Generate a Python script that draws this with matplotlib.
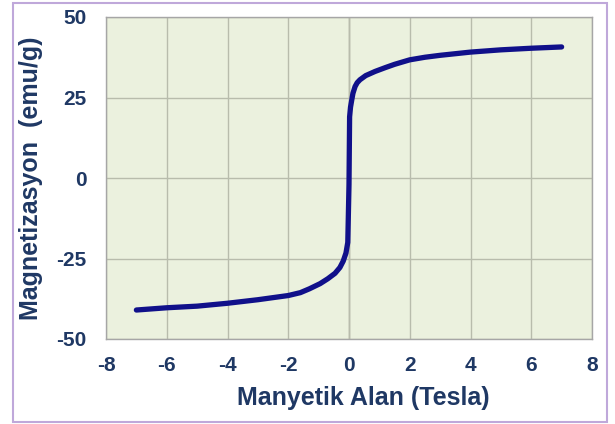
import numpy as np
import matplotlib
matplotlib.use('agg')
import matplotlib.pyplot as plt
from matplotlib.patches import Rectangle

# field (Tesla) and magnetization (emu/g)
field = [-7, -6, -5, -4, -3, -2, -1.6, -1.3, -0.95, -0.7, -0.46, -0.3, -0.19, -0.1, -0.04, 0.0,
         0.02, 0.05, 0.09, 0.13, 0.2, 0.27, 0.36, 0.55, 0.86, 1.2, 1.5, 2, 2.5, 3, 4, 5, 6, 7]
magn = [-41, -40.3, -39.8, -38.9, -37.8, -36.5, -35.6, -34.4, -32.8, -31.3, -29.6, -27.8, -25.8, -23.3, -20, -2,
        19, 22, 24.2, 26.3, 28.4, 29.6, 30.5, 31.8, 33.1, 34.3, 35.3, 36.7, 37.5, 38.1, 39.1, 39.8, 40.3, 40.7]

xticks = [-8, -6, -4, -2, 0, 2, 4, 6, 8]
yticks = [-50, -25, 0, 25, 50]

txt_col = '#1F3864'
plt.rcParams['font.family'] = ['Liberation Sans', 'DejaVu Sans']
plt.rcParams['axes.unicode_minus'] = False

fig = plt.figure(figsize=(6.15, 4.24), dpi=100)
fig.patches.append(Rectangle((13 / 615, 2 / 424), 594 / 615, 419 / 424, transform=fig.transFigure,
                             fill=False, edgecolor='#BFA8DA', linewidth=1.5))

ax = fig.add_axes([106 / 615, 1 - 339 / 424, 486 / 615, 322 / 424])
ax.set_facecolor('#EBF1DE')
ax.plot(field, magn, color='#10108A', linewidth=3.8, solid_capstyle='round', solid_joinstyle='round', zorder=3)

ax.set_xlim(-8, 8)
ax.set_ylim(-50, 50)
ax.set_xticks(xticks)
ax.set_yticks(yticks)
ax.grid(color='#B8BCAC', linewidth=1.0)
ax.axvline(0, color='#9A9A90', linewidth=1.0, zorder=1)
for s in ax.spines.values():
    s.set_color('#A6A6A6')
    s.set_linewidth(1.0)
ax.tick_params(length=0, labelsize=15, labelcolor=txt_col)
ax.tick_params(axis='x', pad=12)
ax.tick_params(axis='y', pad=14)
for lbl in ax.get_xticklabels() + ax.get_yticklabels():
    lbl.set_fontweight('bold')

ax.set_xlabel('Manyetik Alan (Tesla)', fontsize=18, fontweight='bold', color=txt_col)
ax.set_ylabel('Magnetizasyon  (emu/g)', fontsize=18, fontweight='bold', color=txt_col)
ax.xaxis.set_label_coords(0.53, -0.145)
ax.yaxis.set_label_coords(-0.13, 0.5)

fig.savefig('out.png', dpi=100)
